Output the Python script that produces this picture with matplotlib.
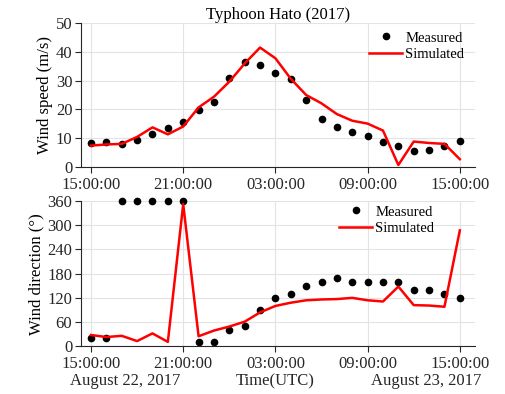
import matplotlib
matplotlib.use("Agg")
import matplotlib.pyplot as plt

# hours since 15:00 UTC, August 22, 2017
hours = list(range(25))

speed_measured = [8.3, 8.6, 7.9, 9.5, 11.6, 13.7, 15.6, 19.8, 22.5, 30.8, 36.3, 35.2, 32.7,
                  30.7, 23.2, 16.7, 13.9, 12.2, 10.9, 8.8, 7.5, 5.7, 5.9, 7.4, 9.1]
speed_simulated = [7.5, 7.9, 8.1, 10.5, 13.8, 11.4, 14.1, 20.7, 24.4, 29.6, 35.9, 41.4, 37.7,
                   30.6, 25.0, 22.1, 18.4, 16.1, 15.1, 12.7, 0.8, 8.9, 8.4, 8.1, 2.8]

dir_measured = [20, 20, 360, 360, 360, 360, 360, 10, 10, 40, 50, 91, 120,
                130, 150, 160, 170, 160, 160, 160, 160, 140, 140, 130, 120]
dir_simulated = [28, 23, 26, 13, 32, 11, 352, 25, 39, 49, 61, 84, 100,
                 108, 114, 116, 117, 120, 114, 111, 148, 102, 101, 98, 287]

tick_hours = [0, 6, 12, 18, 24]
tick_labels = ["15:00:00", "21:00:00", "03:00:00", "09:00:00", "15:00:00"]

plt.rcParams["font.family"] = ["Liberation Serif", "DejaVu Serif"]
plt.rcParams["font.size"] = 12

fig = plt.figure(figsize=(5.06, 3.94), dpi=100)
ax1 = fig.add_axes([0.1595, 0.5754, 0.779, 0.367])
ax2 = fig.add_axes([0.1595, 0.121, 0.779, 0.369])


def style_axis(ax):
    ax.set_xlim(-0.67, 24.98)
    ax.set_xticks(tick_hours)
    ax.set_xticklabels(tick_labels)
    ax.grid(True, color="#e3e3e3", linewidth=0.8)
    ax.set_axisbelow(True)
    for side in ["top", "right"]:
        ax.spines[side].set_visible(False)
    for side in ["left", "bottom"]:
        ax.spines[side].set_color("#262626")
        ax.spines[side].set_linewidth(0.8)
    ax.tick_params(direction="out", length=4, width=0.8, color="#262626",
                   labelcolor="#262626", labelsize=12, pad=2)
    ax.tick_params(axis="x", pad=3)


def add_legend(ax, x, y):
    ax.legend(loc="upper left", bbox_to_anchor=(x, y), frameon=False, borderpad=0,
              borderaxespad=0, handlelength=2.3, handletextpad=0.2, labelspacing=0.25,
              fontsize=10.5)


# wind speed
ax1.plot(hours, speed_measured, "o", color="black", markersize=4.5, label="Measured")
ax1.plot(hours, speed_simulated, "-", color="red", linewidth=1.8, label="Simulated")
style_axis(ax1)
ax1.set_ylim(0, 50)
ax1.set_yticks([0, 10, 20, 30, 40, 50])
ax1.set_ylabel("Wind speed (m/s)", fontsize=12, labelpad=2)
ax1.set_title("Typhoon Hato (2017)", fontsize=12, pad=3)
add_legend(ax1, 0.731, 0.94)

# wind direction
ax2.plot(hours, dir_measured, "o", color="black", markersize=4.5, label="Measured",
         clip_on=False)
ax2.plot(hours, dir_simulated, "-", color="red", linewidth=1.8, label="Simulated")
style_axis(ax2)
ax2.set_ylim(0, 360)
ax2.set_yticks([0, 60, 120, 180, 240, 300, 360])
ax2.set_ylabel("Wind direction (°)", fontsize=12, labelpad=2)
add_legend(ax2, 0.655, 0.97)

tr = ax2.get_xaxis_transform()
ax2.text(2.2, -0.24, "August 22, 2017", transform=tr, ha="center", va="center", color="#262626")
ax2.text(12, -0.24, "Time(UTC)", transform=tr, ha="center", va="center", color="#262626")
ax2.text(21.8, -0.24, "August 23, 2017", transform=tr, ha="center", va="center", color="#262626")

fig.savefig("out.png", dpi=100)
